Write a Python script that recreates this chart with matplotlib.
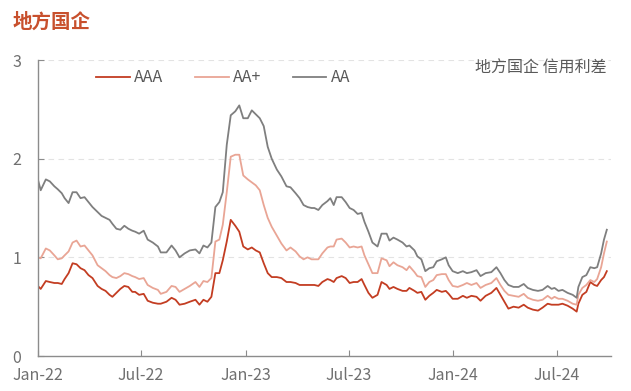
import matplotlib
matplotlib.use("Agg")
import matplotlib.pyplot as plt
import matplotlib.dates as mdates
import pandas as pd

plt.rcParams["font.family"] = ["Noto Sans CJK SC", "DejaVu Sans"]

# weekly-ish observation dates
dates = [
    "2022-01-01", "2022-01-06", "2022-01-15", "2022-01-22", "2022-01-30", "2022-02-05",
    "2022-02-12", "2022-02-17", "2022-02-24", "2022-03-03", "2022-03-10", "2022-03-17",
    "2022-03-24", "2022-03-31", "2022-04-07", "2022-04-16", "2022-04-23", "2022-04-30",
    "2022-05-07", "2022-05-12", "2022-05-19", "2022-05-26", "2022-06-02", "2022-06-09",
    "2022-06-16", "2022-06-21", "2022-06-28",
    "2022-07-06", "2022-07-13", "2022-07-22", "2022-07-31", "2022-08-05", "2022-08-15",
    "2022-08-24", "2022-08-31", "2022-09-07", "2022-09-16", "2022-09-25", "2022-10-05",
    "2022-10-12", "2022-10-19", "2022-10-26", "2022-11-02",
    "2022-11-09", "2022-11-16", "2022-11-22", "2022-11-29", "2022-12-06", "2022-12-14",
    "2022-12-21", "2022-12-28", "2023-01-05", "2023-01-12", "2023-01-19", "2023-01-26",
    "2023-02-02", "2023-02-09", "2023-02-16", "2023-02-25", "2023-03-05", "2023-03-14",
    "2023-03-21", "2023-03-30", "2023-04-06", "2023-04-13", "2023-04-20", "2023-04-27",
    "2023-05-02",
    "2023-05-09", "2023-05-16", "2023-05-25", "2023-05-30", "2023-06-05", "2023-06-10",
    "2023-06-19", "2023-06-26", "2023-07-03", "2023-07-10", "2023-07-17", "2023-07-24",
    "2023-07-29", "2023-08-05", "2023-08-12", "2023-08-21", "2023-08-28", "2023-09-06",
    "2023-09-11", "2023-09-18", "2023-09-25", "2023-10-04", "2023-10-11", "2023-10-16",
    "2023-10-25",
    "2023-10-30", "2023-11-06", "2023-11-13", "2023-11-20", "2023-11-27", "2023-12-03",
    "2023-12-12", "2023-12-19", "2023-12-24", "2023-12-31", "2024-01-09", "2024-01-18",
    "2024-01-25", "2024-02-02", "2024-02-11", "2024-02-18", "2024-02-27", "2024-03-08",
    "2024-03-17", "2024-03-24", "2024-03-31",
    "2024-04-07", "2024-04-16", "2024-04-25", "2024-05-04", "2024-05-11", "2024-05-20",
    "2024-05-29", "2024-06-06", "2024-06-15", "2024-06-22", "2024-06-27", "2024-07-04",
    "2024-07-11", "2024-07-20", "2024-07-29", "2024-08-05", "2024-08-08", "2024-08-15",
    "2024-08-22", "2024-08-29", "2024-09-05", "2024-09-10", "2024-09-17", "2024-09-22",
    "2024-09-27",
]

aaa = [
    0.71, 0.68, 0.76, 0.75, 0.74, 0.74, 0.73, 0.78, 0.84, 0.94, 0.93, 0.89, 0.87, 0.82,
    0.79, 0.71, 0.68, 0.66, 0.62, 0.60, 0.64, 0.68, 0.71, 0.70, 0.65, 0.65, 0.62,
    0.63, 0.56, 0.54, 0.53, 0.53, 0.55, 0.59, 0.57, 0.52, 0.53, 0.55, 0.57, 0.52, 0.57,
    0.55, 0.60,
    0.84, 0.84, 0.97, 1.16, 1.38, 1.32, 1.26, 1.11, 1.08, 1.10, 1.07, 1.05, 0.94, 0.84,
    0.80, 0.80, 0.79, 0.75, 0.75, 0.74, 0.72, 0.72, 0.72, 0.72, 0.72,
    0.71, 0.75, 0.78, 0.77, 0.75, 0.79, 0.81, 0.79, 0.74, 0.75, 0.75, 0.78, 0.72, 0.64,
    0.59, 0.62, 0.75, 0.72, 0.68, 0.70, 0.68, 0.66, 0.66, 0.69, 0.66,
    0.64, 0.65, 0.57, 0.61, 0.64, 0.67, 0.65, 0.66, 0.63, 0.58, 0.58, 0.61, 0.59, 0.61,
    0.60, 0.56, 0.61, 0.64, 0.69, 0.62, 0.55,
    0.48, 0.50, 0.49, 0.52, 0.49, 0.47, 0.46, 0.49, 0.53, 0.52, 0.52, 0.52, 0.53, 0.51,
    0.48, 0.45, 0.53, 0.62, 0.65, 0.75, 0.72, 0.71, 0.77, 0.80, 0.86,
]

aa_plus = [
    1.00, 0.99, 1.09, 1.07, 1.02, 0.98, 0.99, 1.02, 1.06, 1.15, 1.17, 1.11, 1.12, 1.07,
    1.02, 0.92, 0.89, 0.86, 0.82, 0.80, 0.79, 0.81, 0.84, 0.83, 0.81, 0.80, 0.78,
    0.79, 0.72, 0.69, 0.67, 0.63, 0.65, 0.71, 0.70, 0.65, 0.68, 0.71, 0.75, 0.70, 0.76,
    0.75, 0.79,
    1.16, 1.18, 1.33, 1.66, 2.02, 2.04, 2.04, 1.83, 1.79, 1.76, 1.73, 1.68, 1.53, 1.40,
    1.31, 1.22, 1.14, 1.07, 1.10, 1.06, 1.01, 0.98, 1.00, 0.98, 0.98,
    0.98, 1.04, 1.10, 1.11, 1.11, 1.18, 1.19, 1.15, 1.10, 1.11, 1.10, 1.11, 1.02, 0.93,
    0.84, 0.84, 0.99, 0.97, 0.91, 0.95, 0.92, 0.90, 0.87, 0.91, 0.85,
    0.81, 0.80, 0.70, 0.75, 0.77, 0.82, 0.83, 0.83, 0.77, 0.71, 0.70, 0.72, 0.74, 0.72,
    0.74, 0.69, 0.72, 0.74, 0.79, 0.72, 0.66,
    0.62, 0.61, 0.60, 0.63, 0.59, 0.57, 0.56, 0.57, 0.61, 0.58, 0.60, 0.58, 0.58, 0.56,
    0.53, 0.52, 0.62, 0.69, 0.72, 0.77, 0.75, 0.78, 0.90, 1.04, 1.16,
]

aa = [
    1.79, 1.68, 1.79, 1.77, 1.72, 1.69, 1.65, 1.60, 1.55, 1.66, 1.66, 1.60, 1.61, 1.56,
    1.51, 1.46, 1.42, 1.40, 1.38, 1.34, 1.29, 1.28, 1.32, 1.29, 1.27, 1.26, 1.24,
    1.27, 1.18, 1.15, 1.11, 1.05, 1.05, 1.12, 1.07, 1.00, 1.04, 1.07, 1.08, 1.04, 1.12,
    1.10, 1.15,
    1.51, 1.56, 1.66, 2.14, 2.44, 2.48, 2.54, 2.41, 2.41, 2.49, 2.45, 2.41, 2.33, 2.12,
    2.00, 1.89, 1.82, 1.72, 1.71, 1.65, 1.60, 1.53, 1.51, 1.50, 1.50,
    1.48, 1.53, 1.57, 1.60, 1.53, 1.61, 1.61, 1.56, 1.50, 1.48, 1.44, 1.45, 1.36, 1.26,
    1.15, 1.11, 1.24, 1.24, 1.17, 1.20, 1.18, 1.15, 1.11, 1.12, 1.07,
    1.01, 0.98, 0.86, 0.89, 0.90, 0.96, 0.98, 1.00, 0.92, 0.86, 0.84, 0.86, 0.84, 0.85,
    0.87, 0.81, 0.84, 0.85, 0.90, 0.84, 0.77,
    0.72, 0.70, 0.70, 0.73, 0.69, 0.67, 0.66, 0.67, 0.71, 0.68, 0.69, 0.66, 0.67, 0.64,
    0.62, 0.59, 0.70, 0.80, 0.82, 0.90, 0.89, 0.90, 1.04, 1.18, 1.28,
]

series_names = ["AAA", "AA+", "AA"]
series_colors = ["#C33D22", "#E9A595", "#7F7F7F"]
tick_dates = ["2022-01-01", "2022-07-01", "2023-01-01", "2023-07-01", "2024-01-01", "2024-07-01"]

x = pd.to_datetime(dates)

fig = plt.figure(figsize=(6.31, 3.91), dpi=100)
ax = fig.add_axes([0.060, 0.0895, 0.908, 0.757])

for vals, name, col in zip([aaa, aa_plus, aa], series_names, series_colors):
    ax.plot(x, vals, color=col, lw=1.3, label=name)

ax.set_ylim(0, 3)
ax.set_yticks([0, 1, 2, 3])
ax.set_xlim(pd.Timestamp("2022-01-01"), pd.Timestamp("2024-10-04"))
ax.set_xticks(pd.to_datetime(tick_dates))
ax.xaxis.set_major_formatter(mdates.DateFormatter("%b-%y"))

for y in [1, 2, 3]:
    ax.axhline(y, color="#E3E3E3", lw=0.8, ls=(0, (5, 4)), zorder=0)

for s in ["top", "right"]:
    ax.spines[s].set_visible(False)
for s in ["left", "bottom"]:
    ax.spines[s].set_color("#8C8C8C")
    ax.spines[s].set_linewidth(1.0)

ax.tick_params(axis="both", direction="in", length=4, color="#8C8C8C",
               labelsize=11.5, labelcolor="#707070")
ax.tick_params(axis="y", pad=12)
ax.tick_params(axis="x", pad=8)

ax.legend(loc="center left", bbox_to_anchor=(0.077, 0.94), ncol=3, frameon=False,
          fontsize=11.5, handlelength=2.1, handletextpad=0.25, columnspacing=2.0,
          labelcolor="#595959")

ax.text(0.992, 0.973, "地方国企 信用利差", transform=ax.transAxes, ha="right",
        va="center", fontsize=11.5, color="#595959")

fig.text(13 / 631, 1 - 22 / 391, "地方国企", ha="left", va="center", fontsize=14,
         fontweight="bold", color="#C8502D")

fig.savefig("out.png", dpi=100)
